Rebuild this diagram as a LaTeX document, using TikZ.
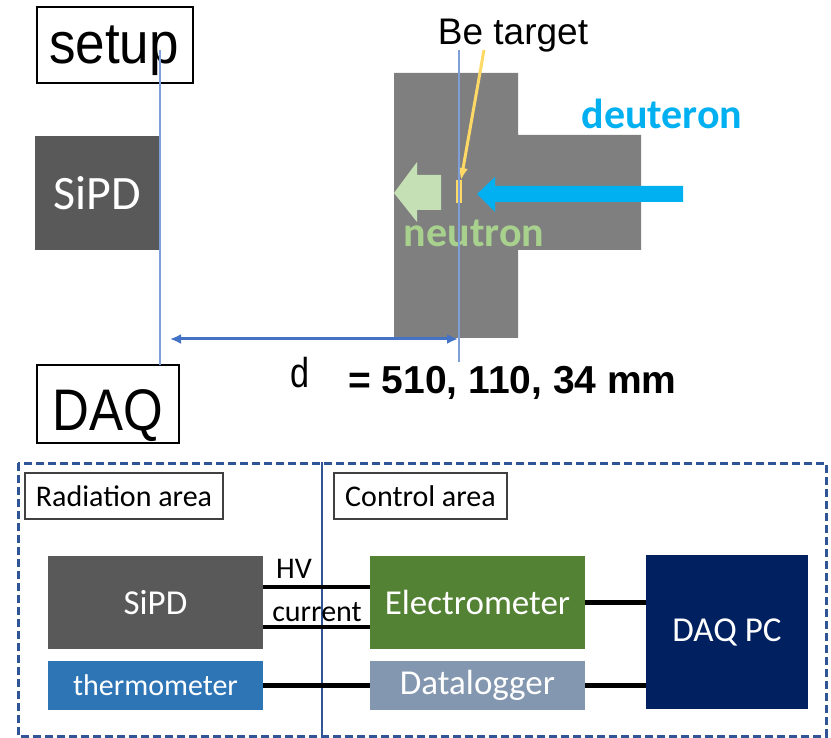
\documentclass[tikz,border=0pt]{standalone}
\usepackage{fontspec}
\setmainfont{Carlito}
\newfontfamily\arialf{Liberation Sans}
\usetikzlibrary{arrows.meta}
\definecolor{sipdgray}{HTML}{595959}
\definecolor{shieldgray}{HTML}{7F7F7F}
\definecolor{deublue}{HTML}{00B0F0}
\definecolor{neugreen}{HTML}{C5E0B4}
\definecolor{neutext}{HTML}{A9D18E}
\definecolor{tgtyellow}{HTML}{FFD966}
\definecolor{thinblue}{HTML}{7F9FD8}
\definecolor{arrblue}{HTML}{4472C4}
\definecolor{dashblue}{HTML}{2F5597}
\definecolor{elecgreen}{HTML}{548235}
\definecolor{thermblue}{HTML}{2E75B6}
\definecolor{dlgray}{HTML}{8497B0}
\definecolor{pcnavy}{HTML}{002060}
\newcommand{\fsz}[1]{\fontsize{#1}{#1}\selectfont}
\begin{document}
\begin{tikzpicture}[x=1pt,y=-1pt,
  outbox/.style={draw=black, line width=1.5pt, fill=white, inner sep=0pt},
  areabox/.style={draw=black!75, line width=1.2pt, fill=white, inner sep=0pt, font=\fsz{30}},
  devbox/.style={fill=#1, text=white, inner sep=0pt},
  lbl/.style={inner sep=0pt, anchor=base},
  thinline/.style={draw=thinblue, line width=1.3pt},
  wire/.style={draw=black, line width=4.5pt},
]
\useasboundingbox (0,0) rectangle (831,738);

% ---------- setup part ----------
\node[outbox, minimum width=156pt, minimum height=76pt] (setup) at (115,45) {};
\node[lbl, font=\arialf\fsz{53}] (setuptxt) at (114,64) {\scalebox{1}[1.1]{setup}};

\node[outbox, minimum width=142pt, minimum height=78pt] (daq) at (108,404) {};
\node[lbl, font=\arialf\fsz{51}] (daqtxt) at (108,430) {\scalebox{1}[1.15]{DAQ}};

\node[devbox=sipdgray, minimum width=124pt, minimum height=114pt, font=\fsz{48}] (sipdtop) at (97,193) {SiPD};

% shielding shape
\fill[shieldgray] (394,73) -- (518,73) -- (518,135) -- (641,135) -- (641,250)
  -- (518,250) -- (518,338) -- (394,338) -- cycle;

% neutron block arrow
\fill[neugreen] (394,193) -- (417,162) -- (417,175) -- (441,175) -- (441,210)
  -- (417,210) -- (417,222) -- cycle;
\node[lbl, font=\bfseries\fsz{42}, text=neutext] (neutron) at (474,247) {neutron};

% deuteron beam arrow
\fill[deublue] (683,186) -- (495,186) -- (495,177) -- (477,194) -- (495,212)
  -- (495,202) -- (683,202) -- cycle;
\node[lbl, font=\bfseries\fsz{42}, text=deublue] (deuteron) at (662,129) {deuteron};

% Be target
\node[lbl, font=\arialf\fsz{37}] (betxt) at (513,45) {Be target};
\coordinate (tgttop) at (459,180);
\coordinate (tgtbot) at (459,203);
\draw[tgtyellow, line width=1.8pt] ([xshift=-2pt]tgttop) -- ([xshift=-2pt]tgtbot);
\draw[tgtyellow, line width=1.8pt] ([xshift=2pt]tgttop) -- ([xshift=2pt]tgtbot);
\coordinate (ytail) at (484,50);
\draw[tgtyellow, line width=3pt, -{Latex[length=12pt,width=10pt]}] (ytail) -- ([xshift=2pt]tgttop);

% thin reference lines
\coordinate (l1top) at (160,50);
\coordinate (l1bot) at (160,365);
\coordinate (l2top) at (459,50);
\coordinate (l2bot) at (459,362);
\draw[thinline] (l1top) -- (l1bot);
\draw[thinline] (l2top) -- (l2bot);

% distance arrow
\coordinate (dl) at (170,339);
\coordinate (dr) at (458,339);
\draw[arrblue, line width=3pt, {Latex[length=11pt,width=10pt]}-{Latex[length=11pt,width=10pt]}] (dl) -- (dr);
\node[lbl, font=\arialf\fsz{38}] (dtxt) at (300,388) {\scalebox{0.9}[1.1]{d}};
\node[lbl, anchor=base west, font=\arialf\bfseries\fsz{39}] (dval) at (348,393) {= 510, 110, 34 mm};

% ---------- DAQ part ----------
\draw[dashblue, line width=3pt, dash pattern=on 8pt off 4pt] (18,463) rectangle (826,736);
\coordinate (divtop) at (322,462);
\coordinate (divbot) at (322,738);
\draw[dashblue, line width=2pt] (divtop) -- (divbot);

\node[areabox, minimum width=198pt, minimum height=46pt] (rad) at (124,496) {Radiation area};
\node[areabox, minimum width=173pt, minimum height=46pt] (ctrl) at (420.5,496) {Control area};

\node[devbox=sipdgray, minimum width=215pt, minimum height=93pt, font=\fsz{35}] (sipd) at (155.5,602.5) {SiPD};
\node[devbox=thermblue, minimum width=215pt, minimum height=49pt, font=\fsz{30}] (therm) at (155.5,685.5) {thermometer};
\node[devbox=elecgreen, minimum width=215pt, minimum height=93pt, font=\fsz{35}] (elec) at (477.5,602.5) {Electrometer};
\node[devbox=dlgray, minimum width=215pt, minimum height=49pt, font=\fsz{35}] (dlog) at (477.5,685.5) {Datalogger};
\node[devbox=pcnavy, minimum width=162pt, minimum height=154pt, font=\fsz{35}] (daqpc) at (727,632) {DAQ PC};

\draw[wire] ([yshift=15.5pt]sipd.east) -- ([yshift=15.5pt]sipd.east -| elec.west);
\draw[wire] ([yshift=-24.5pt]sipd.east) -- ([yshift=-24.5pt]sipd.east -| elec.west);
\draw[wire] (therm.east) -- (dlog.west);
\draw[wire] (elec.east) -- (elec.east -| daqpc.west);
\draw[wire] (dlog.east) -- (dlog.east -| daqpc.west);

\node[lbl, font=\fsz{30}] (hv) at (294,578) {HV};
\node[lbl, font=\fsz{30}] (cur) at (317,621) {current};
\end{tikzpicture}
\end{document}
